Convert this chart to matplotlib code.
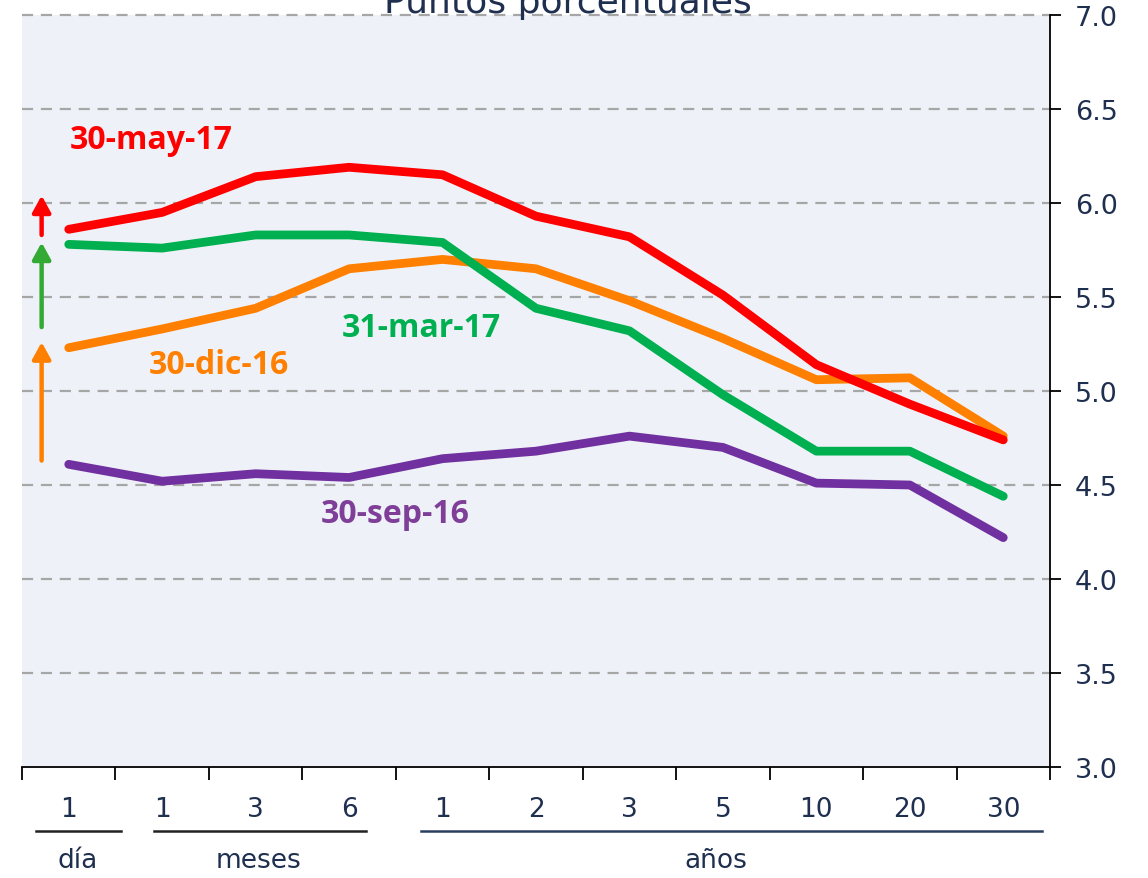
import matplotlib.pyplot as plt
import numpy as np

# plazos (etiquetas del eje x)
plazos = ['1', '1', '3', '6', '1', '2', '3', '5', '10', '20', '30']

may17 = [5.86, 5.95, 6.14, 6.19, 6.15, 5.93, 5.82, 5.51, 5.14, 4.93, 4.74]
mar17 = [5.78, 5.76, 5.83, 5.83, 5.79, 5.44, 5.32, 4.98, 4.68, 4.68, 4.44]
dic16 = [5.23, 5.33, 5.44, 5.65, 5.70, 5.65, 5.48, 5.28, 5.06, 5.07, 4.76]
sep16 = [4.61, 4.52, 4.56, 4.54, 4.64, 4.68, 4.76, 4.70, 4.51, 4.50, 4.22]

# flechas de cambio (desde, hasta)
flecha_dic = (4.63, 5.26)
flecha_mar = (5.34, 5.79)
flecha_may = (5.83, 6.04)

W, H = 1148, 879
fig = plt.figure(figsize=(W/100, H/100), dpi=100)
ax = fig.add_axes([22/W, 1-768/H, (1050-22)/W, (768-16)/H])
ax.set_facecolor('#eef2f8')

x = np.arange(len(plazos))
series = [(sep16, '#7030a0'), (dic16, '#ff7f00'), (mar17, '#00b050'), (may17, '#ff0000')]
for vals, c in series:
    ax.plot(x, vals, color=c, lw=6.3, solid_capstyle='round', solid_joinstyle='round', zorder=3)

ax.set_xlim(-0.5, len(plazos)-0.5)
ax.set_ylim(3.0, 7.0)
ax.set_yticks(np.arange(3.0, 7.01, 0.5))
ax.yaxis.tick_right()
ax.set_yticklabels(['%.1f' % v for v in np.arange(3.0, 7.01, 0.5)])
for v in np.arange(3.5, 7.01, 0.5):
    ax.axhline(v, color='#a6a6a6', lw=1.6, ls=(0, (5, 3.5)), zorder=1, clip_on=False)

ax.set_xticks(np.arange(-0.5, len(plazos), 1.0))
ax.set_xticklabels([])
ax.tick_params(axis='x', direction='out', length=9, width=1.3, color='black')
ax.tick_params(axis='y', direction='out', length=8, width=1.3, color='black',
               labelsize=19.5, labelcolor='#1f2f4f', pad=10)
for s in ['top', 'left']:
    ax.spines[s].set_visible(False)
ax.spines['bottom'].set_linewidth(1.3)
ax.spines['right'].set_linewidth(1.3)

# etiquetas de plazos
for i, t in enumerate(plazos):
    ax.text(i, 2.775, t, ha='center', va='center', fontsize=19, color='#1f2f4f')

# subrayados de grupos
grupos = [(-0.35, 0.56, '#222222'), (0.91, 3.18, '#222222'), (3.77, 10.41, '#2a3f5f')]
for x0, x1, c in grupos:
    ax.plot([x0, x1], [2.66, 2.66], color=c, lw=1.8, clip_on=False)
for xc, lab in [(0.1, 'día'), (2.03, 'meses'), (6.92, 'años')]:
    ax.text(xc, 2.505, lab, ha='center', va='center', fontsize=19, color='#1f2f4f')

# flechas
xa = -0.29
for (y0, y1), c in [(flecha_dic, '#ff7f00'), (flecha_mar, '#33aa33'), (flecha_may, '#ff0000')]:
    ax.annotate('', xy=(xa, y1), xytext=(xa, y0),
                arrowprops=dict(arrowstyle='-|>,head_width=0.55,head_length=1.0',
                                color=c, lw=3.2, shrinkA=0, shrinkB=0))

# nombres de series
fam = ['Open Sans', 'DejaVu Sans']
kw = dict(fontsize=23, fontweight='bold', family=fam, va='center')
ax.text(0.01, 6.34, '30-may-17', color='#ff0000', **kw)
ax.text(2.92, 5.34, '31-mar-17', color='#00b050', **kw)
ax.text(0.86, 5.14, '30-dic-16', color='#ff7f00', **kw)
ax.text(2.70, 4.35, '30-sep-16', color='#7f3f98', **kw)

fig.text(568/W, 1-3/H, 'Puntos porcentuales', ha='center', va='center', fontsize=26, color='#1f2f4f')

fig.savefig('out.png', dpi=100)
